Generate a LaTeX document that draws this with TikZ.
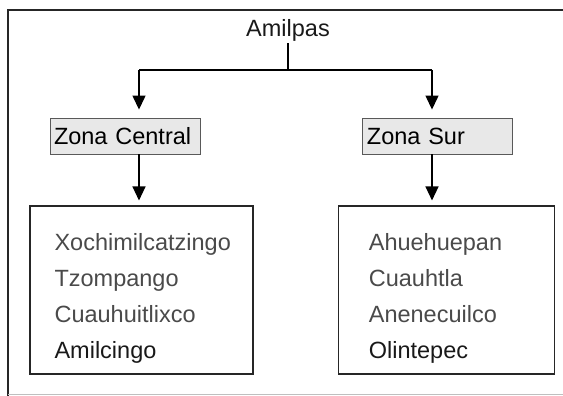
\documentclass[tikz,border=0pt]{standalone}
\usepackage{fontspec}
\setmainfont{Liberation Sans}
\usepackage{tikz}
\usetikzlibrary{arrows.meta, positioning}
\definecolor{listgray}{HTML}{4A4A4A}
\definecolor{zonefill}{HTML}{E8E8E8}

\begin{document}
\begin{tikzpicture}[
            x=1pt, y=1pt,
            node distance=0.5cm,
            font=\fontsize{23.5}{36}\selectfont,
            titlenode/.style={inner sep=2pt, text=black!90},
            zonenode/.style={rectangle, draw=black!65, fill=zonefill, line width=0.9pt, minimum height=36pt, inner ysep=2pt, inner xsep=4pt, text width=142pt, align=left},
            listbox/.style={rectangle, draw=black!85, line width=1.3pt},
            listtext/.style={inner sep=0pt, align=left, text=listgray},
            arr/.style={-{Triangle[length=14pt, width=13pt]}, line width=1.3pt},
            ]
            \useasboundingbox (0,0) rectangle (563,-396);
            \draw[line width=1.6pt, black!85] (8,-396) -- (8,-10) -- (563,-10);
            \draw[line width=0.8pt, black!25] (8,-394) -- (563,-394);

            \node[titlenode]    (root) at (288,-30) {Amilpas};
            \node[zonenode]     (zc) at (125,-136) {Zona Central};
            \node[zonenode]     (zs) [right=162pt of zc] {Zona Sur};
            \node[listbox, minimum width=223pt, minimum height=168pt] (lb) [below=51pt of zc, xshift=16.5pt] {};
            \node[listbox, minimum width=216pt, minimum height=168pt] (rb) [right=84pt of lb] {};

            \node[listtext, anchor=base west] (lt) at ([xshift=25pt, yshift=-153pt]lb.north west) {Xochimilcatzingo\\ Tzompango\\ Cuauhuitlixco\\ \textcolor{black!90}{Amilcingo}};
            \node[listtext, anchor=base west] (rt) at ([xshift=31pt, yshift=-153pt]rb.north west) {Ahuehuepan\\ Cuauhtla\\ Anenecuilco\\ \textcolor{black!90}{Olintepec}};

            \coordinate (jl) at (139,-70);
            \coordinate (jr) at (432,-70);

            \draw[line width=1.3pt] (root.south) -- (root.south |- jl);
            \draw[line width=1.3pt] (jl) -- (jr);
            \draw[arr, shorten >=8pt] (jl) -- (jl |- zc.north);
            \draw[arr, shorten >=8pt] (jr) -- (jr |- zs.north);
            \draw[arr, shorten >=5pt] (zc.south -| jl) -- (lb.north -| jl);
            \draw[arr, shorten >=5pt] (zs.south -| jr) -- (rb.north -| jr);
        \end{tikzpicture}
\end{document}
